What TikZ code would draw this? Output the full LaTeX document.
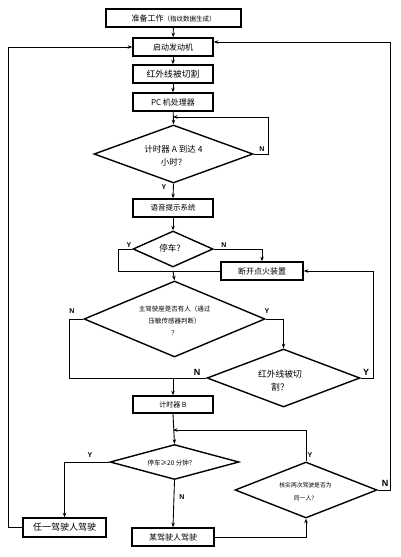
\documentclass[tikz,border=0pt]{standalone}
\usepackage{fontspec}
\setmainfont{Noto Sans CJK SC}
\newfontfamily\lab{Liberation Sans}[BoldFont={Liberation Sans Bold}]
\usetikzlibrary{shapes.geometric,arrows.meta}
\begin{document}
\begin{tikzpicture}[x=1pt,y=-1pt,
  box/.style={draw,line width=1.6pt,rectangle,inner sep=0pt,align=center,font=\fontsize{8}{9}\selectfont},
  dia/.style={draw,line width=1.4pt,diamond,inner sep=0pt},
  dtext/.style={align=center,inner sep=0pt},
  conn/.style={line width=0.9pt},
  arr/.style={conn,-{Stealth[length=4.5pt,width=3.5pt]}},
  yn/.style={font=\lab\bfseries\fontsize{7}{8}\selectfont,inner sep=0pt},
  ynb/.style={font=\lab\bfseries\fontsize{9}{10}\selectfont,inner sep=0pt}]
\useasboundingbox (0,0) rectangle (400,557);
% boxes
\node[box,minimum width=135pt,minimum height=18pt] (b1) at (173.5,18) {准备工作{\fontsize{6.5}{7}\selectfont（指纹数据生成）}};
\node[box,minimum width=80pt,minimum height=18pt] (b2) at (173,47) {启动发动机};
\node[box,minimum width=80pt,minimum height=18pt,font=\fontsize{8.8}{9}\selectfont] (b3) at (173,74) {红外线被切割};
\node[box,minimum width=80pt,minimum height=18pt] (b4) at (173,102) {PC 机处理器};
\node[dia,minimum width=159pt,minimum height=58pt] (d1) at (173.5,154) {};
\node[dtext,font=\fontsize{8.5}{13}\selectfont] (d1t) at (173.5,155.5) {计时器 A 到达 4\\小时？};
\node[box,minimum width=80pt,minimum height=18pt,font=\fontsize{7.5}{9}\selectfont] (b5) at (173,208) {语音提示系统};
\node[dia,minimum width=80pt,minimum height=36pt] (d2) at (173,249) {};
\node[dtext,font=\fontsize{8.5}{9}\selectfont] (d2t) at (172,248) {停车？};
\node[box,minimum width=82pt,minimum height=18pt] (b6) at (262,271) {断开点火装置};
\node[dia,minimum width=181pt,minimum height=76pt] (d3) at (174.5,319) {};
\node[dtext,font=\fontsize{6.5}{12}\selectfont] (d3t) at (174.5,321) {主驾驶座是否有人（通过\\压敏传感器判断）\\？};
\node[dia,minimum width=153pt,minimum height=58pt] (d4) at (283.5,378) {};
\node[dtext,font=\fontsize{8.8}{13}\selectfont] (d4t) at (280,380.5) {红外线被切\\割？};
\node[box,minimum width=80pt,minimum height=17pt,font=\fontsize{7}{9}\selectfont] (b7) at (173,404.5) {计时器 B};
\node[dia,minimum width=129pt,minimum height=35pt] (d5) at (174.5,462) {};
\node[dtext,font=\fontsize{6.5}{8}\selectfont] (d5t) at (171.5,463) {停车≥20 分钟？};
\node[box,minimum width=83pt,minimum height=19pt,font=\fontsize{9}{10}\selectfont] (b8) at (64.5,527.5) {任一驾驶人驾驶};
\node[box,minimum width=82pt,minimum height=18pt] (b9) at (173,537) {某驾驶人驾驶};
\node[dia,minimum width=142pt,minimum height=56pt] (d6) at (306,490) {};
\node[dtext,font=\fontsize{5.8}{13}\selectfont] (d6t) at (305.5,491.5) {核实两次驾驶是否为\\同一人？};
% junction coordinates
\coordinate (c1) at (173,117);
\coordinate (j1) at (173,271);
\coordinate (j2) at (173,378);
\coordinate (j3) at (173,430);
% connectors
\draw[arr] (b1) -- (b2);
\draw[arr] (b2) -- (b3);
\draw[arr] (b3) -- (b4);
\draw[arr] (b4) -- (d1.north);
\draw[arr] (d1.east) -- (268,154) |- (c1);
\draw[arr] (d1.south) -- (b5.north);
\draw[arr] (b5.south) -- (d2.north);
\draw[arr] (d2.east) -| (b6.north);
\draw[conn] (d2.west) -- (118,249) |- (b6.west);
\draw[arr] (j1) -- (d3.north);
\draw[arr] (d3.east) -| (d4.north);
\draw[conn] (d3.west) -- (69,319) |- (d4.west);
\draw[arr] (j2) -- (b7.north);
\draw[arr] (d4.east) -- (373,378) |- (b6.east);
\draw[arr] (b7.south) -- (d5.north);
\draw[arr] (d6.north) |- (j3);
\draw[arr] (d5.west) -| (b8.north);
\draw[arr] (b8.west) -- (8,527.5) |- (b2.west);
\draw[arr] (d5.south) -- (b9.north);
\draw[arr] (b9.east) -| (d6.south);
\draw[arr] (d6.east) -- (390,490) |- ([yshift=5pt]b2.east);
% labels
\node[yn] (l1) at (262,149) {N};
\node[yn] (l2) at (164,187) {Y};
\node[yn] (l3) at (129,245) {Y};
\node[yn] (l4) at (224,245) {N};
\node[yn] (l5) at (72,311) {N};
\node[yn] (l6) at (267,311) {Y};
\node[ynb] (l7) at (197,372) {N};
\node[ynb] (l8) at (366,372) {Y};
\node[yn] (l9) at (90,455) {Y};
\node[yn] (l10) at (182,497) {N};
\node[yn] (l11) at (310,455) {Y};
\node[ynb] (l12) at (385,483) {N};
\end{tikzpicture}
\end{document}
